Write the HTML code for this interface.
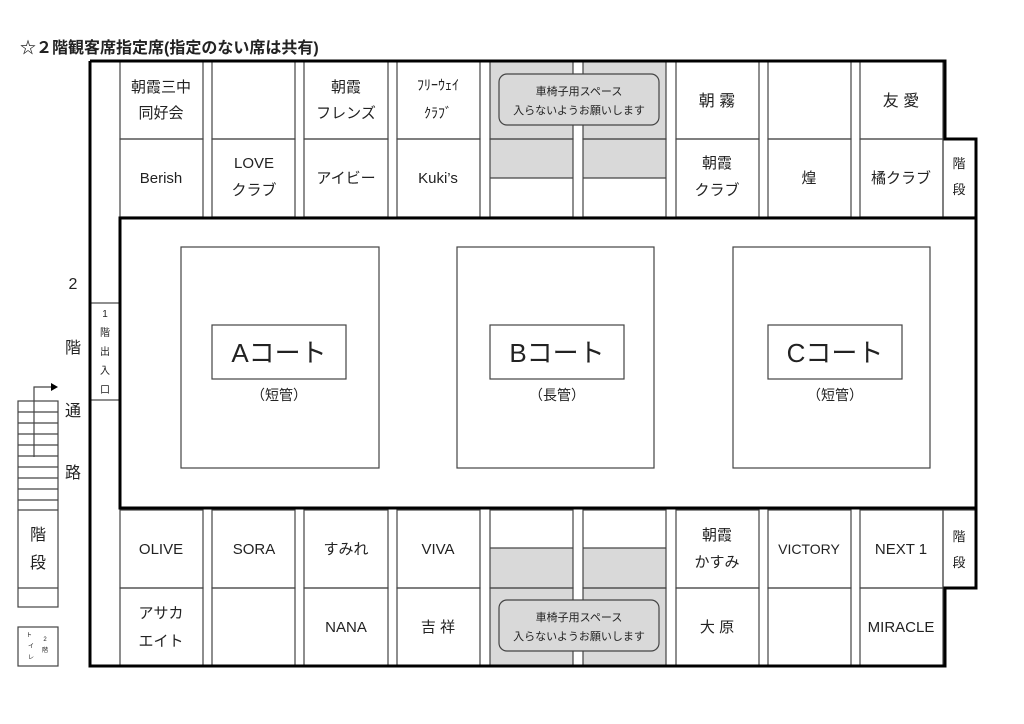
<!DOCTYPE html>
<html><head><meta charset="utf-8">
<style>
html,body{margin:0;padding:0;background:#fff;}
svg{display:block;}
text{font-family:"Liberation Sans","Noto Sans CJK JP",sans-serif;fill:#222;}
</style></head>
<body>
<svg width="1024" height="724" viewBox="0 0 1024 724" xmlns="http://www.w3.org/2000/svg">
<text x="20" y="53" font-size="16" font-weight="bold" fill="#000">☆２階観客席指定席(指定のない席は共有)</text>

<!-- gray areas -->
<g fill="#d9d9d9">
<rect x="490" y="61" width="83" height="117"/><rect x="583" y="61" width="83" height="117"/>
<rect x="490" y="548" width="83" height="118"/><rect x="583" y="548" width="83" height="118"/>
</g>

<!-- cells -->
<g fill="none" stroke="#444" stroke-width="1.2">
<rect x="120" y="61" width="83" height="78"/><rect x="212" y="61" width="83" height="78"/><rect x="304" y="61" width="84" height="78"/><rect x="397" y="61" width="83" height="78"/><rect x="490" y="61" width="83" height="78"/><rect x="583" y="61" width="83" height="78"/><rect x="676" y="61" width="83" height="78"/><rect x="768" y="61" width="83" height="78"/><rect x="860" y="61" width="83" height="78"/>
<rect x="120" y="139" width="83" height="78"/><rect x="212" y="139" width="83" height="78"/><rect x="304" y="139" width="84" height="78"/><rect x="397" y="139" width="83" height="78"/><rect x="490" y="139" width="83" height="78"/><rect x="583" y="139" width="83" height="78"/><rect x="676" y="139" width="83" height="78"/><rect x="768" y="139" width="83" height="78"/><rect x="860" y="139" width="83" height="78"/>
<line x1="490" y1="178" x2="573" y2="178"/><line x1="583" y1="178" x2="666" y2="178"/>
<rect x="943" y="139" width="33" height="78"/>
<rect x="120" y="510" width="83" height="78"/><rect x="212" y="510" width="83" height="78"/><rect x="304" y="510" width="84" height="78"/><rect x="397" y="510" width="83" height="78"/><rect x="490" y="510" width="83" height="78"/><rect x="583" y="510" width="83" height="78"/><rect x="676" y="510" width="83" height="78"/><rect x="768" y="510" width="83" height="78"/><rect x="860" y="510" width="83" height="78"/>
<rect x="120" y="588" width="83" height="78"/><rect x="212" y="588" width="83" height="78"/><rect x="304" y="588" width="84" height="78"/><rect x="397" y="588" width="83" height="78"/><rect x="490" y="588" width="83" height="78"/><rect x="583" y="588" width="83" height="78"/><rect x="676" y="588" width="83" height="78"/><rect x="768" y="588" width="83" height="78"/><rect x="860" y="588" width="83" height="78"/>
<line x1="490" y1="548" x2="573" y2="548"/><line x1="583" y1="548" x2="666" y2="548"/>
<rect x="943" y="510" width="33" height="78"/>
<rect x="90" y="303" width="30" height="97"/>
<!-- courts -->
<rect x="181" y="247" width="198" height="221"/><rect x="457" y="247" width="197" height="221"/><rect x="733" y="247" width="197" height="221"/>
<rect x="212" y="325" width="134" height="54"/><rect x="490" y="325" width="134" height="54"/><rect x="768" y="325" width="134" height="54"/>
<!-- stairs -->
<rect x="18" y="401" width="40" height="206"/>
<line x1="18" y1="412" x2="58" y2="412"/><line x1="18" y1="423" x2="58" y2="423"/><line x1="18" y1="434" x2="58" y2="434"/><line x1="18" y1="445" x2="58" y2="445"/><line x1="18" y1="456" x2="58" y2="456"/><line x1="18" y1="467" x2="58" y2="467"/><line x1="18" y1="478" x2="58" y2="478"/><line x1="18" y1="489" x2="58" y2="489"/><line x1="18" y1="500" x2="58" y2="500"/><line x1="18" y1="510" x2="58" y2="510"/><line x1="18" y1="588" x2="58" y2="588"/>
<polyline points="34,457 34,387 52,387"/>
<rect x="18" y="627" width="40" height="39"/>
</g>
<polygon points="51,383 58,387 51,391" fill="#000"/>

<!-- wheelchair boxes -->
<g fill="#d9d9d9" stroke="#444" stroke-width="1.2">
<rect x="499" y="74" width="160" height="51" rx="8"/>
<rect x="499" y="600" width="160" height="51" rx="8"/>
</g>

<!-- thick outlines -->
<g fill="none" stroke="#000" stroke-width="3">
<polyline points="90,61 945,61 945,139 976,139 976,218"/>
<polyline points="976,508 976,588 945,588 945,666 90,666 90,61"/>
<rect x="120" y="218" width="856" height="290"/>
</g>

<g font-size="15" text-anchor="middle">
<text x="161" y="92">朝霞三中</text><text x="161" y="118">同好会</text>
<text x="346" y="92">朝霞</text><text x="346" y="118">フレンズ</text>
<text x="438" y="90" font-size="14">ﾌﾘｰｳｪｲ</text><text x="438" y="118" font-size="14">ｸﾗﾌﾞ</text>
<text x="717" y="106" font-size="16">朝 霧</text>
<text x="901" y="106" font-size="16">友 愛</text>
<text x="161" y="183">Berish</text>
<text x="254" y="168">LOVE</text><text x="254" y="195">クラブ</text>
<text x="346" y="183">アイビー</text>
<text x="438" y="183">Kuki’s</text>
<text x="717" y="168">朝霞</text><text x="717" y="195">クラブ</text>
<text x="809" y="183">煌</text>
<text x="901" y="183">橘クラブ</text>
<text x="959" y="168" font-size="13">階</text><text x="959" y="194" font-size="13">段</text>
<text x="161" y="554">OLIVE</text><text x="254" y="554">SORA</text><text x="346" y="554">すみれ</text><text x="438" y="554">VIVA</text>
<text x="717" y="540">朝霞</text><text x="717" y="567">かすみ</text>
<text x="809" y="554" font-size="14">VICTORY</text><text x="901" y="554">NEXT 1</text>
<text x="959" y="541" font-size="13">階</text><text x="959" y="567" font-size="13">段</text>
<text x="161" y="618">アサカ</text><text x="161" y="646">エイト</text>
<text x="346" y="632">NANA</text><text x="438" y="632">吉 祥</text>
<text x="717" y="632">大 原</text><text x="901" y="632">MIRACLE</text>
</g>
<g font-size="11" text-anchor="middle">
<text x="579" y="95">車椅子用スペース</text><text x="579" y="114">入らないようお願いします</text>
<text x="579" y="621">車椅子用スペース</text><text x="579" y="640">入らないようお願いします</text>
</g>
<g font-size="26" text-anchor="middle" fill="#000">
<text x="279" y="362">Aコート</text><text x="557" y="362">Bコート</text><text x="835" y="362">Cコート</text>
</g>
<g font-size="14" text-anchor="middle">
<text x="279" y="400">（短管）</text><text x="557" y="400">（長管）</text><text x="835" y="400">（短管）</text>
</g>
<g font-size="16" text-anchor="middle">
<text x="73" y="289">2</text><text x="73" y="353">階</text><text x="73" y="416">通</text><text x="73" y="478">路</text>
<text x="38" y="540">階</text><text x="38" y="568">段</text>
</g>
<g font-size="10" text-anchor="middle">
<text x="105" y="317">1</text><text x="105" y="336">階</text><text x="105" y="355">出</text><text x="105" y="374">入</text><text x="105" y="393">口</text>
</g>
<g font-size="6" text-anchor="middle">
<text x="29" y="637">ト</text><text x="31" y="648">イ</text><text x="31" y="659">レ</text>
<text x="45" y="641">2</text><text x="45" y="652">階</text>
</g>
</svg>
</body></html>
